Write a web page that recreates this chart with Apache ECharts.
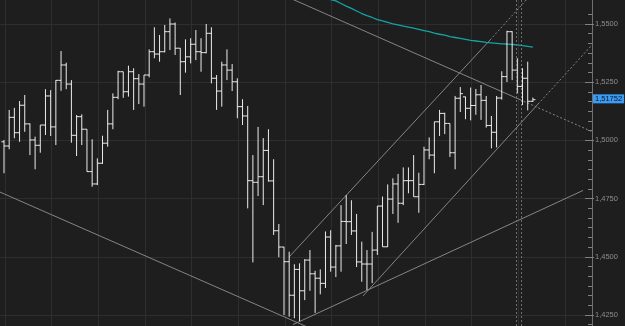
<!DOCTYPE html>
<html><head><meta charset="utf-8">
<script src="https://cdn.jsdelivr.net/npm/echarts@6/dist/echarts.min.js"></script>
<style>html,body{margin:0;padding:0;background:#1e1e1e;overflow:hidden}#c{width:625px;height:326px}</style>
</head><body><div id="c"></div>
<script>
// OHLC bars (index = bar number)
const opens = [1.4994,1.4976,1.5099,1.5033,1.5151,1.5071,1.5002,1.4979,1.5066,1.5191,
1.5058,1.5258,1.5324,1.5242,1.5022,1.5102,1.5048,1.4866,1.4813,1.4902,
1.4988,1.5071,1.5185,1.5295,1.5209,1.5295,1.5265,1.5242,1.5281,1.5381,
1.5371,1.5381,1.5467,1.5500,1.5396,1.5338,1.5359,1.5413,1.5381,1.5377,
1.5460,1.5267,1.5212,1.5324,1.5302,1.5252,1.5145,1.5105,1.4827,1.4820,
1.4844,1.4957,1.4826,1.4612,1.4542,1.4479,1.4335,1.4446,1.4354,1.4486,
1.4427,1.4408,1.4386,1.4585,1.4456,1.4547,1.4652,1.4651,1.4611,1.4478,
1.4469,1.4469,1.4529,1.4718,1.4543,1.4748,1.4813,1.4730,1.4827,1.4827,
1.4758,1.4811,1.4959,1.4937,1.5080,1.5116,1.5073,1.4947,1.5181,1.5187,
1.5138,1.5150,1.5196,1.5172,1.5064,1.5035,1.5182,1.5274,1.5467,1.5302,
1.5232,1.5267,1.5168];
const highs = [1.5002,1.5131,1.5140,1.5169,1.5195,1.5073,1.5016,1.5066,1.5220,1.5216,
1.5259,1.5384,1.5334,1.5259,1.5109,1.5112,1.5048,1.5005,1.4923,1.5020,
1.5131,1.5202,1.5299,1.5295,1.5321,1.5310,1.5285,1.5281,1.5391,1.5486,
1.5453,1.5496,1.5524,1.5506,1.5396,1.5434,1.5439,1.5474,1.5439,1.5500,
1.5486,1.5281,1.5338,1.5391,1.5328,1.5267,1.5177,1.5148,1.4937,1.5058,
1.5010,1.5048,1.4919,1.4641,1.4543,1.4522,1.4468,1.4472,1.4490,1.4529,
1.4440,1.4446,1.4609,1.4614,1.4551,1.4722,1.4765,1.4743,1.4684,1.4565,
1.4529,1.4607,1.4718,1.4759,1.4811,1.4837,1.4856,1.4884,1.4884,1.4937,
1.4861,1.4973,1.5013,1.5080,1.5131,1.5119,1.5073,1.5191,1.5229,1.5188,
1.5227,1.5221,1.5238,1.5191,1.5105,1.5191,1.5297,1.5471,1.5469,1.5353,
1.5310,1.5338,1.5184];
const lows = [1.4859,1.4962,1.5009,1.4994,1.5037,1.4937,1.4876,1.4947,1.5023,1.5019,
1.4980,1.5213,1.5220,1.4990,1.4933,1.4980,1.4866,1.4801,1.4808,1.4899,
1.4973,1.5048,1.5177,1.5183,1.5188,1.5131,1.5156,1.5145,1.5271,1.5353,
1.5338,1.5378,1.5388,1.5367,1.5195,1.5291,1.5331,1.5345,1.5295,1.5374,
1.5245,1.5131,1.5145,1.5259,1.5212,1.5095,1.5066,1.4708,1.4476,1.4761,
1.4722,1.4823,1.4594,1.4498,1.4250,1.4243,1.4236,1.4224,1.4314,1.4354,
1.4259,1.4339,1.4366,1.4436,1.4413,1.4436,1.4555,1.4594,1.4456,1.4393,
1.4357,1.4387,1.4508,1.4543,1.4542,1.4684,1.4646,1.4722,1.4773,1.4758,
1.4689,1.4808,1.4919,1.4859,1.5019,1.5027,1.4929,1.4876,1.5122,1.5091,
1.5086,1.5110,1.5088,1.5055,1.4966,1.4970,1.5175,1.5251,1.5259,1.5202,
1.5152,1.5129,1.5165];
const closes = [1.4976,1.5099,1.5033,1.5151,1.5071,1.5002,1.4979,1.5066,1.5191,1.5058,
1.5258,1.5324,1.5242,1.5022,1.5102,1.5048,1.4866,1.4813,1.4902,1.4988,
1.5071,1.5185,1.5295,1.5209,1.5295,1.5265,1.5242,1.5281,1.5381,1.5371,
1.5381,1.5467,1.5500,1.5396,1.5338,1.5359,1.5413,1.5381,1.5377,1.5460,
1.5267,1.5212,1.5324,1.5302,1.5252,1.5145,1.5105,1.4827,1.4820,1.4844,
1.4957,1.4826,1.4612,1.4542,1.4479,1.4335,1.4446,1.4354,1.4486,1.4427,
1.4408,1.4386,1.4585,1.4456,1.4547,1.4652,1.4651,1.4611,1.4478,1.4469,
1.4469,1.4529,1.4718,1.4543,1.4748,1.4813,1.4730,1.4827,1.4827,1.4758,
1.4811,1.4959,1.4937,1.5080,1.5116,1.5073,1.4947,1.5181,1.5201,1.5138,
1.5150,1.5196,1.5172,1.5064,1.5035,1.5182,1.5274,1.5467,1.5302,1.5232,
1.5267,1.5168,1.5175];
const lastPrice = 1.51752;

// moving average (teal), starting at bar maStart
const maStart = 61;
const maValues = [1.5625,1.5614,1.5605,1.5599,1.5588,1.5577,1.5567,1.5556,1.5545,1.5536,
1.5528,1.5519,1.5513,1.5507,1.5501,1.5496,1.5491,1.5487,1.5482,1.5477,
1.5472,1.5467,1.5461,1.5456,1.5452,1.5446,1.5442,1.5438,1.5434,1.5430,
1.5427,1.5424,1.5421,1.5419,1.5417,1.5415,1.5414,1.5412,1.5410,1.5407,
1.5404,1.5401];

// trend lines: [barIndex, price] endpoints
const trendSolid = [
  [[-0.771, 1.4778], [58.25, 1.4201]],
  [[55.74, 1.4209], [111.67, 1.4785]],
  [[54.97, 1.4499], [93.73, 1.5431]],
  [[69.24, 1.4332], [102.99, 1.5156]],
  [[54.77, 1.5615], [99.52, 1.5175]]
];
const trendDotted = [
  [[93.73, 1.5431], [101.06, 1.5612]],
  [[102.99, 1.5156], [113.4, 1.5410]],
  [[99.52, 1.5175], [113.4, 1.5038]]
];
const separators = [98.75, 99.71];

// axis ranges and tick labels
const xMin = -0.771, xMax = 113.4;
const yMin = 1.42028, yMax = 1.56031;
const priceTicks = [1.425, 1.45, 1.475, 1.5, 1.525, 1.55];
const gridBars = [0.2, 9.2, 18.2, 27.2, 36.2, 45.2, 54.2, 63.2, 72.2, 81.2, 90.2, 99.2, 108.2];
const minorTicks = [];
for (let k = -1; k <= 31; k++) minorTicks.push(+(1.425 + k * 0.025 / 6).toFixed(6));

const fmt = v => v.toFixed(4).replace('.', ',');
const ohlcData = opens.map((o, i) => [i, o, highs[i], lows[i], closes[i]]);
const maData = maValues.map((v, k) => [maStart + k, v]);

const series = [];
trendSolid.forEach(seg => series.push({
  type: 'line', data: seg, showSymbol: false, silent: true, z: 1,
  lineStyle: { color: '#858585', width: 1 }
}));
trendDotted.forEach(seg => series.push({
  type: 'line', data: seg, showSymbol: false, silent: true, z: 1,
  lineStyle: { color: '#858585', width: 1, type: [2, 2] }
}));
series.push({
  type: 'line', data: maData, showSymbol: false, silent: true, z: 2, clip: false,
  lineStyle: { color: '#14a3a3', width: 1.3 },
  markLine: {
    silent: true, symbol: 'none', animation: false,
    label: { show: false },
    lineStyle: { color: '#6e6e6e', width: 1, type: [2, 2] },
    data: separators.map(x => ({ xAxis: x })).concat([{
      yAxis: lastPrice,
      lineStyle: { color: 'rgba(0,0,0,0)', width: 0 },
      label: { show: true, position: 'end', distance: 1, verticalAlign: 'middle', offset: [0, 5],
        formatter: () => lastPrice.toFixed(5).replace('.', ','),
        backgroundColor: '#3c9cf2', color: '#06152a', fontSize: 7.5, fontFamily: 'Liberation Sans',
        padding: [1, 2, 0, 2], opacity: 1 }
    }])
  }
});
series.push({
  type: 'custom', z: 3,
  data: ohlcData,
  encode: { x: 0, y: [1, 2, 3, 4] },
  renderItem(params, api) {
    const i = api.value(0);
    const o = api.coord([i, api.value(1)]);
    const h = api.coord([i, api.value(2)]);
    const l = api.coord([i, api.value(3)]);
    const c = api.coord([i, api.value(4)]);
    const hw = api.size([1, 0])[0] * 0.5;
    const style = { stroke: '#ececec', lineWidth: 1 };
    return { type: 'group', children: [
      { type: 'line', shape: { x1: h[0], y1: h[1], x2: l[0], y2: l[1] }, style },
      { type: 'line', shape: { x1: o[0] - hw, y1: o[1], x2: o[0], y2: o[1] }, style },
      { type: 'line', shape: { x1: c[0], y1: c[1], x2: c[0] + hw, y2: c[1] }, style }
    ]};
  }
});

const tickColor = '#808080';
const chart = echarts.init(document.getElementById('c'));
chart.setOption({
  backgroundColor: '#1e1e1e',
  animation: false,
  grid: { left: 0, right: 33, top: 0, bottom: 0, containLabel: false, outerBoundsMode: 'none' },
  xAxis: { type: 'value', min: xMin, max: xMax,
    axisLine: { show: false, onZero: false }, axisLabel: { show: false },
    axisTick: { show: false, customValues: gridBars },
    splitLine: { show: true, lineStyle: { color: '#2e2e2e', width: 1 } } },
  yAxis: [
    { type: 'value', position: 'right', min: yMin, max: yMax,
      axisLine: { show: true, onZero: false, lineStyle: { color: '#707070' } },
      axisTick: { show: true, length: 2, lineStyle: { color: tickColor }, customValues: priceTicks },
      axisLabel: { color: '#8e8e8e', fontSize: 7.5, fontFamily: 'Liberation Sans', margin: 3, formatter: fmt, customValues: priceTicks },
      splitLine: { show: true, lineStyle: { color: '#2e2e2e' } } },
    { type: 'value', position: 'right', min: yMin, max: yMax,
      axisLine: { show: false, onZero: false },
      axisTick: { show: true, inside: true, length: 4, lineStyle: { color: tickColor }, customValues: minorTicks },
      axisLabel: { show: false }, splitLine: { show: false } },
    { type: 'value', position: 'right', min: yMin, max: yMax,
      axisLine: { show: false, onZero: false },
      axisTick: { show: true, inside: true, length: 7, lineStyle: { color: tickColor }, customValues: priceTicks },
      axisLabel: { show: false }, splitLine: { show: false } }
  ],
  series
});
</script></body></html>
